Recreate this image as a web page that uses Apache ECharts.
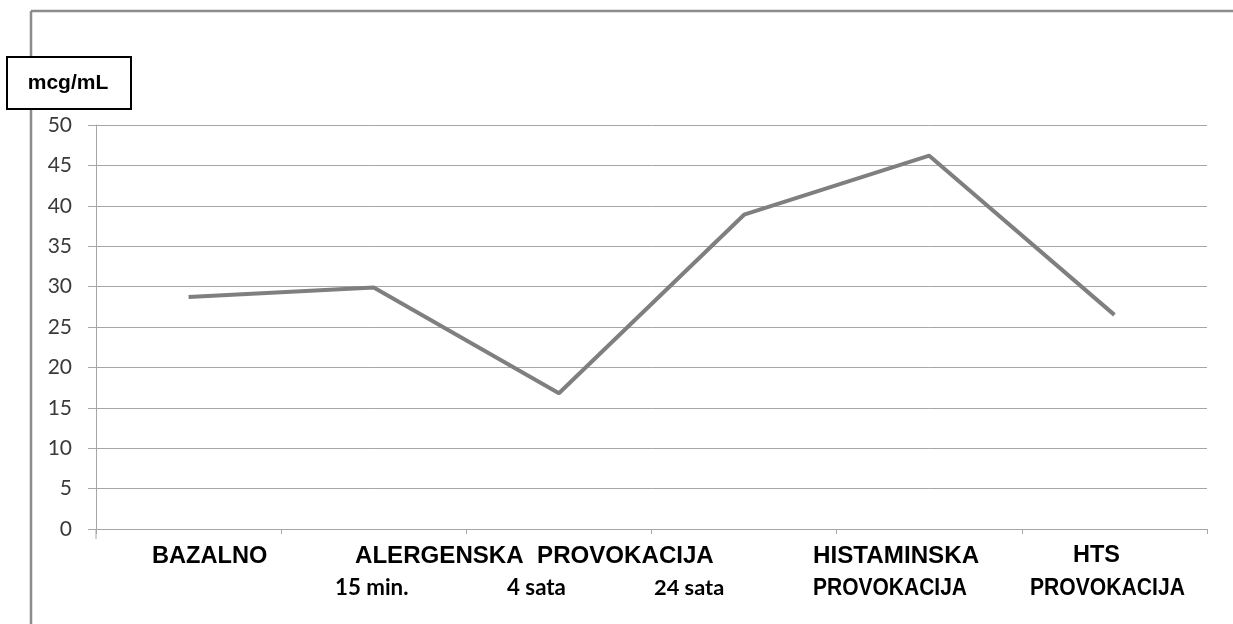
<!DOCTYPE html>
<html>
<head>
<meta charset="utf-8">
<script src="https://cdn.jsdelivr.net/npm/echarts@6/dist/echarts.min.js"></script>
<style>
html,body{margin:0;padding:0;background:#fff;}
#c{width:1233px;height:624px;}
</style>
</head>
<body>
<div id="c"></div>
<script>
// Data
const categories = ['BAZALNO', 'ALERGENSKA 15 min.', 'ALERGENSKA 4 sata', 'ALERGENSKA 24 sata', 'HISTAMINSKA PROVOKACIJA', 'HTS PROVOKACIJA'];
const values = [28.7, 29.9, 16.8, 38.9, 46.2, 26.5];
const unitLabel = 'mcg/mL';
const groupLabelsRow1 = ['BAZALNO', 'ALERGENSKA  PROVOKACIJA', 'HISTAMINSKA', 'HTS'];
const groupLabelsRow2 = ['15 min.', '4 sata', '24 sata', 'PROVOKACIJA', 'PROVOKACIJA'];

const chart = echarts.init(document.getElementById('c'), null, {renderer: 'canvas'});

const boldFont = '"Liberation Sans", Arial, sans-serif';
const lightFont = 'Lato, "Open Sans", sans-serif';
const row1Y = 556, row2Y = 588;
const row1X = [152, 355, 813, 1073];
const row1Sizes = [23.6, 24.1, 24.2, 23.5];
const row2X = [335, 507, 654, 813, 1030];
const row2Fonts = [lightFont, lightFont, lightFont, boldFont, boldFont];
const row2Sizes = [22.3, 22.3, 21.8, 24, 24];
const row2Scale = [1, 1, 1, 0.875, 0.88];

const graphics = [
  {type: 'line', shape: {x1: 31, y1: 11, x2: 1233, y2: 11}, style: {stroke: '#8c8c8c', lineWidth: 2.5}, z: 10},
  {type: 'line', shape: {x1: 31, y1: 11, x2: 31, y2: 624}, style: {stroke: '#8c8c8c', lineWidth: 2.5}, z: 10},
  {type: 'line', shape: {x1: 96, y1: 529, x2: 96, y2: 539}, style: {stroke: '#a6a6a6', lineWidth: 1}, z: 10},
  {type: 'rect', shape: {x: 7, y: 57, width: 124, height: 52}, style: {fill: '#fff', stroke: '#000', lineWidth: 2}, z: 20},
  {type: 'text', x: 68, y: 83, style: {text: unitLabel, font: 'bold 21px ' + boldFont, fill: '#000', align: 'center', verticalAlign: 'middle'}, z: 21}
];
groupLabelsRow1.forEach((t, i) => graphics.push({
  type: 'text', x: row1X[i], y: row1Y,
  style: {text: t, font: 'bold ' + row1Sizes[i] + 'px ' + boldFont, fill: '#000', align: 'left', verticalAlign: 'middle'}
}));
groupLabelsRow2.forEach((t, i) => graphics.push({
  type: 'text', x: row2X[i], y: row2Y, scaleX: row2Scale[i],
  style: {text: t, font: 'bold ' + row2Sizes[i] + 'px ' + row2Fonts[i], fill: '#000', align: 'left', verticalAlign: 'middle'}
}));

chart.setOption({
  animation: false,
  backgroundColor: '#fff',
  grid: {left: 96, right: 26, top: 125, bottom: 95, containLabel: false},
  xAxis: {
    type: 'category',
    data: categories,
    boundaryGap: true,
    axisLine: {lineStyle: {color: '#a6a6a6', width: 1}},
    axisTick: {show: true, interval: 0, length: 5, lineStyle: {color: '#a6a6a6'}},
    axisLabel: {show: false, interval: 0},
    splitLine: {show: false}
  },
  yAxis: {
    type: 'value',
    min: 0, max: 50, interval: 5,
    axisLine: {show: true, lineStyle: {color: '#a6a6a6', width: 1}},
    axisTick: {show: true, length: 8, lineStyle: {color: '#a6a6a6'}},
    axisLabel: {margin: 24, fontSize: 21, fontFamily: lightFont, color: '#3a3a3a'},
    splitLine: {show: true, lineStyle: {color: '#a6a6a6', width: 1}}
  },
  series: [{
    type: 'line',
    data: values,
    showSymbol: false,
    symbol: 'none',
    lineStyle: {color: '#7f7f7f', width: 4},
    itemStyle: {color: '#7f7f7f'}
  }],
  graphic: graphics
});
</script>
</body>
</html>
